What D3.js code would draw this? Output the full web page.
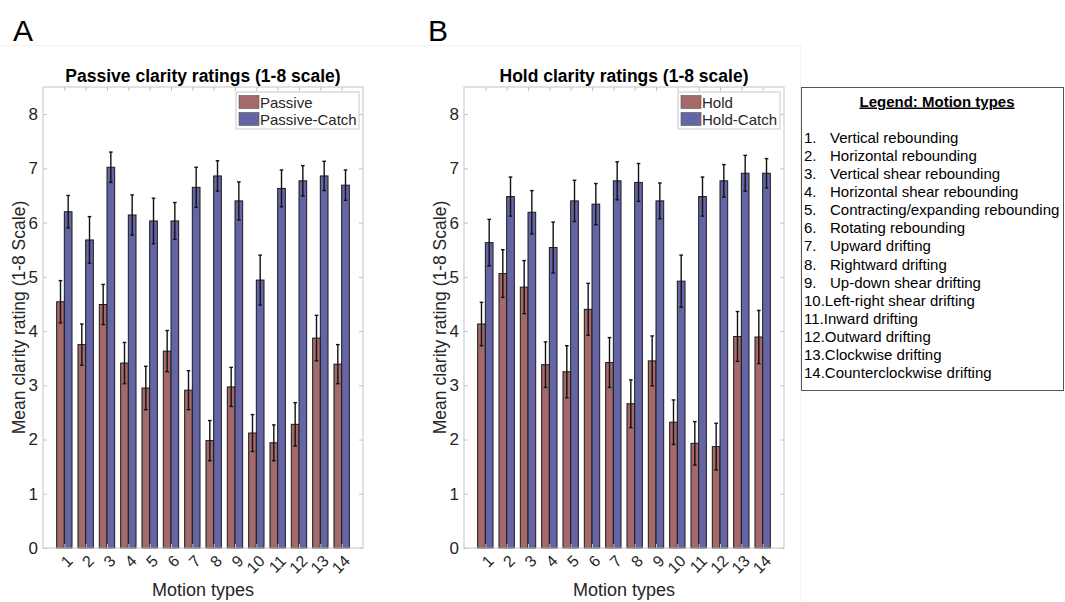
<!DOCTYPE html>
<meta charset="utf-8">
<body style="margin:0;background:#fff">
<svg width="1065" height="602"></svg>
<script src="https://d3js.org/d3.v7.min.js"></script>
<script>

// motion types 1..14
var motionTypes = d3.range(1, 15);
var motionNames = ["Vertical rebounding", "Horizontal rebounding", "Vertical shear rebounding",
  "Horizontal shear rebounding", "Contracting/expanding rebounding", "Rotating rebounding",
  "Upward drifting", "Rightward drifting", "Up-down shear drifting", "Left-right shear drifting",
  "Inward drifting", "Outward drifting", "Clockwise drifting", "Counterclockwise drifting"];
var yTicks = [0, 1, 2, 3, 4, 5, 6, 7, 8];

// panel A
var passive      = [4.54, 3.75, 4.49, 3.41, 2.95, 3.63, 2.91, 1.98, 2.97, 2.12, 1.94, 2.28, 3.87, 3.39];
var passiveErr   = [0.39, 0.38, 0.37, 0.38, 0.40, 0.38, 0.36, 0.37, 0.36, 0.34, 0.33, 0.40, 0.42, 0.36];
var passiveCatch = [6.20, 5.68, 7.02, 6.14, 6.03, 6.03, 6.65, 6.86, 6.40, 4.94, 6.63, 6.77, 6.86, 6.69];
var passiveCatchErr = [0.30, 0.43, 0.28, 0.37, 0.42, 0.34, 0.37, 0.28, 0.35, 0.46, 0.34, 0.28, 0.27, 0.28];

// panel B
var hold      = [4.13, 5.06, 4.81, 3.38, 3.25, 4.40, 3.42, 2.66, 3.45, 2.32, 1.93, 1.87, 3.90, 3.89];
var holdErr   = [0.40, 0.44, 0.49, 0.42, 0.48, 0.48, 0.46, 0.44, 0.46, 0.41, 0.40, 0.43, 0.46, 0.49];
var holdCatch = [5.63, 6.48, 6.19, 5.54, 6.40, 6.34, 6.77, 6.74, 6.40, 4.92, 6.48, 6.77, 6.91, 6.91];
var holdCatchErr = [0.43, 0.36, 0.40, 0.47, 0.38, 0.38, 0.35, 0.35, 0.33, 0.48, 0.36, 0.30, 0.33, 0.27];

var redClr = '#a46a6a', blueClr = '#6565a6';
var txtClr = '#262626', axClr = '#c4c4c4';
var font = 'Liberation Sans, Arial, sans-serif';

var svg = d3.select('svg').style('font-family', font);

// very faint frame lines from the figure panels
svg.append('line').attr('x1', 0).attr('x2', 800).attr('y1', 45.5).attr('y2', 45.5)
  .attr('stroke', '#f3f3f3');
svg.append('line').attr('x1', 800.5).attr('x2', 800.5).attr('y1', 45).attr('y2', 602)
  .attr('stroke', '#f3f3f3');

svg.append('text').attr('x', 13).attr('y', 41).attr('font-size', 30).attr('fill', '#000').text('A');
svg.append('text').attr('x', 428).attr('y', 41).attr('font-size', 30).attr('fill', '#000').text('B');

function drawPanel(left, title, s1, e1, s2, e2, names) {
  var top = 87, bottom = 548, right = left + 320;
  var x = d3.scaleLinear().domain([0, 15]).range([left, right]);
  var y = d3.scaleLinear().domain([0, 8.5]).range([bottom, top]);
  var bw = x(0.36) - x(0);
  var g = svg.append('g');

  // bars
  [[s1, e1, redClr, -1], [s2, e2, blueClr, 0]].forEach(function(ser) {
    var vals = ser[0], errs = ser[1];
    g.selectAll(null).data(motionTypes).enter().append('rect')
      .attr('x', function(d) { return x(d) + ser[3] * bw; })
      .attr('y', function(d, i) { return y(vals[i]); })
      .attr('width', bw)
      .attr('height', function(d, i) { return y(0) - y(vals[i]); })
      .attr('fill', ser[2])
      .attr('stroke', '#1a1a1a').attr('stroke-width', 1);
    // error bars
    var cx = function(d) { return x(d) + (ser[3] + 0.5) * bw; };
    g.selectAll(null).data(motionTypes).enter().append('line')
      .attr('x1', cx).attr('x2', cx)
      .attr('y1', function(d, i) { return y(vals[i] - errs[i]); })
      .attr('y2', function(d, i) { return y(vals[i] + errs[i]); })
      .attr('stroke', '#111').attr('stroke-width', 1.4);
    [1, -1].forEach(function(sg) {
      g.selectAll(null).data(motionTypes).enter().append('line')
        .attr('x1', function(d) { return cx(d) - 1.8; })
        .attr('x2', function(d) { return cx(d) + 1.8; })
        .attr('y1', function(d, i) { return y(vals[i] + sg * errs[i]); })
        .attr('y2', function(d, i) { return y(vals[i] + sg * errs[i]); })
        .attr('stroke', '#111').attr('stroke-width', 1.4);
    });
  });

  // box
  g.append('rect').attr('x', left).attr('y', top).attr('width', right - left).attr('height', bottom - top)
    .attr('fill', 'none').attr('stroke', axClr).attr('stroke-width', 1);

  // axes
  var xa = g.append('g').attr('transform', 'translate(0,' + bottom + ')')
    .call(d3.axisBottom(x).tickValues(motionTypes).tickSize(-4));
  var xt = g.append('g').attr('transform', 'translate(0,' + top + ')')
    .call(d3.axisTop(x).tickValues(motionTypes).tickSize(-4).tickFormat(''));
  var ya = g.append('g').attr('transform', 'translate(' + left + ',0)')
    .call(d3.axisLeft(y).tickValues(yTicks).tickSize(-4).tickPadding(5));
  var yr = g.append('g').attr('transform', 'translate(' + right + ',0)')
    .call(d3.axisRight(y).tickValues(yTicks).tickSize(-4).tickFormat(''));
  [xa, xt, ya, yr].forEach(function(a) {
    a.select('.domain').remove();
    a.selectAll('.tick line').attr('stroke', axClr);
  });
  ya.selectAll('text').attr('font-size', 17).attr('fill', txtClr).attr('font-family', font);
  xa.selectAll('text').attr('font-size', 16).attr('fill', txtClr).attr('font-family', font)
    .attr('text-anchor', 'end').attr('dy', '0.35em').attr('y', 0)
    .attr('transform', 'translate(5,10) rotate(-45)');

  // titles
  svg.append('text').attr('x', (left + right) / 2).attr('y', 82).attr('text-anchor', 'middle')
    .attr('font-size', 17.5).attr('font-weight', 'bold').attr('fill', '#000').text(title);
  svg.append('text').attr('x', (left + right) / 2).attr('y', 596).attr('text-anchor', 'middle')
    .attr('font-size', 18).attr('fill', txtClr).text('Motion types');
  svg.append('text').attr('transform', 'translate(' + (left - 18) + ',' + ((top + bottom) / 2) + ') rotate(-90)')
    .attr('text-anchor', 'middle').attr('font-size', 17.5).attr('fill', txtClr)
    .text('Mean clarity rating (1-8 Scale)');

  // legend
  var lw = names[1].length > 12 ? 123 : 102;
  var lg = svg.append('g').attr('transform', 'translate(' + (right - lw - 4) + ',92)');
  lg.append('rect').attr('width', lw).attr('height', 37).attr('fill', '#fff').attr('stroke', '#c8c8c8');
  [redClr, blueClr].forEach(function(c, i) {
    lg.append('rect').attr('x', 3).attr('y', 3.5 + i * 17).attr('width', 20).attr('height', 13)
      .attr('fill', c).attr('stroke', '#555').attr('stroke-width', 0.6);
    lg.append('text').attr('x', 24).attr('y', 15.5 + i * 17).attr('font-size', 15).attr('fill', txtClr)
      .text(names[i]);
  });
}

drawPanel(43, 'Passive clarity ratings (1-8 scale)', passive, passiveErr, passiveCatch, passiveCatchErr,
  ['Passive', 'Passive-Catch']);
drawPanel(464, 'Hold clarity ratings (1-8 scale)', hold, holdErr, holdCatch, holdCatchErr,
  ['Hold', 'Hold-Catch']);

// motion type legend
var mg = svg.append('g').attr('transform', 'translate(801,87)');
mg.append('rect').attr('x', 0.5).attr('y', 0.5).attr('width', 262).attr('height', 303)
  .attr('fill', '#fff').attr('stroke', '#555');
mg.append('text').attr('x', 136).attr('y', 19.5).attr('text-anchor', 'middle')
  .attr('font-size', 15).attr('font-weight', 'bold').attr('text-decoration', 'underline')
  .attr('fill', '#000').text('Legend: Motion types');
var items = mg.selectAll(null).data(motionNames).enter().append('g')
  .attr('transform', function(d, i) { return 'translate(0,' + (55.5 + i * 18.15) + ')'; });
items.append('text').attr('x', 3).attr('font-size', 15).attr('fill', '#000')
  .text(function(d, i) { return i < 9 ? (i + 1) + '.' : (i + 1) + '.' + d; });
items.filter(function(d, i) { return i < 9; })
  .append('text').attr('x', 29).attr('font-size', 15).attr('fill', '#000')
  .text(function(d) { return d; });

</script>
</body>
